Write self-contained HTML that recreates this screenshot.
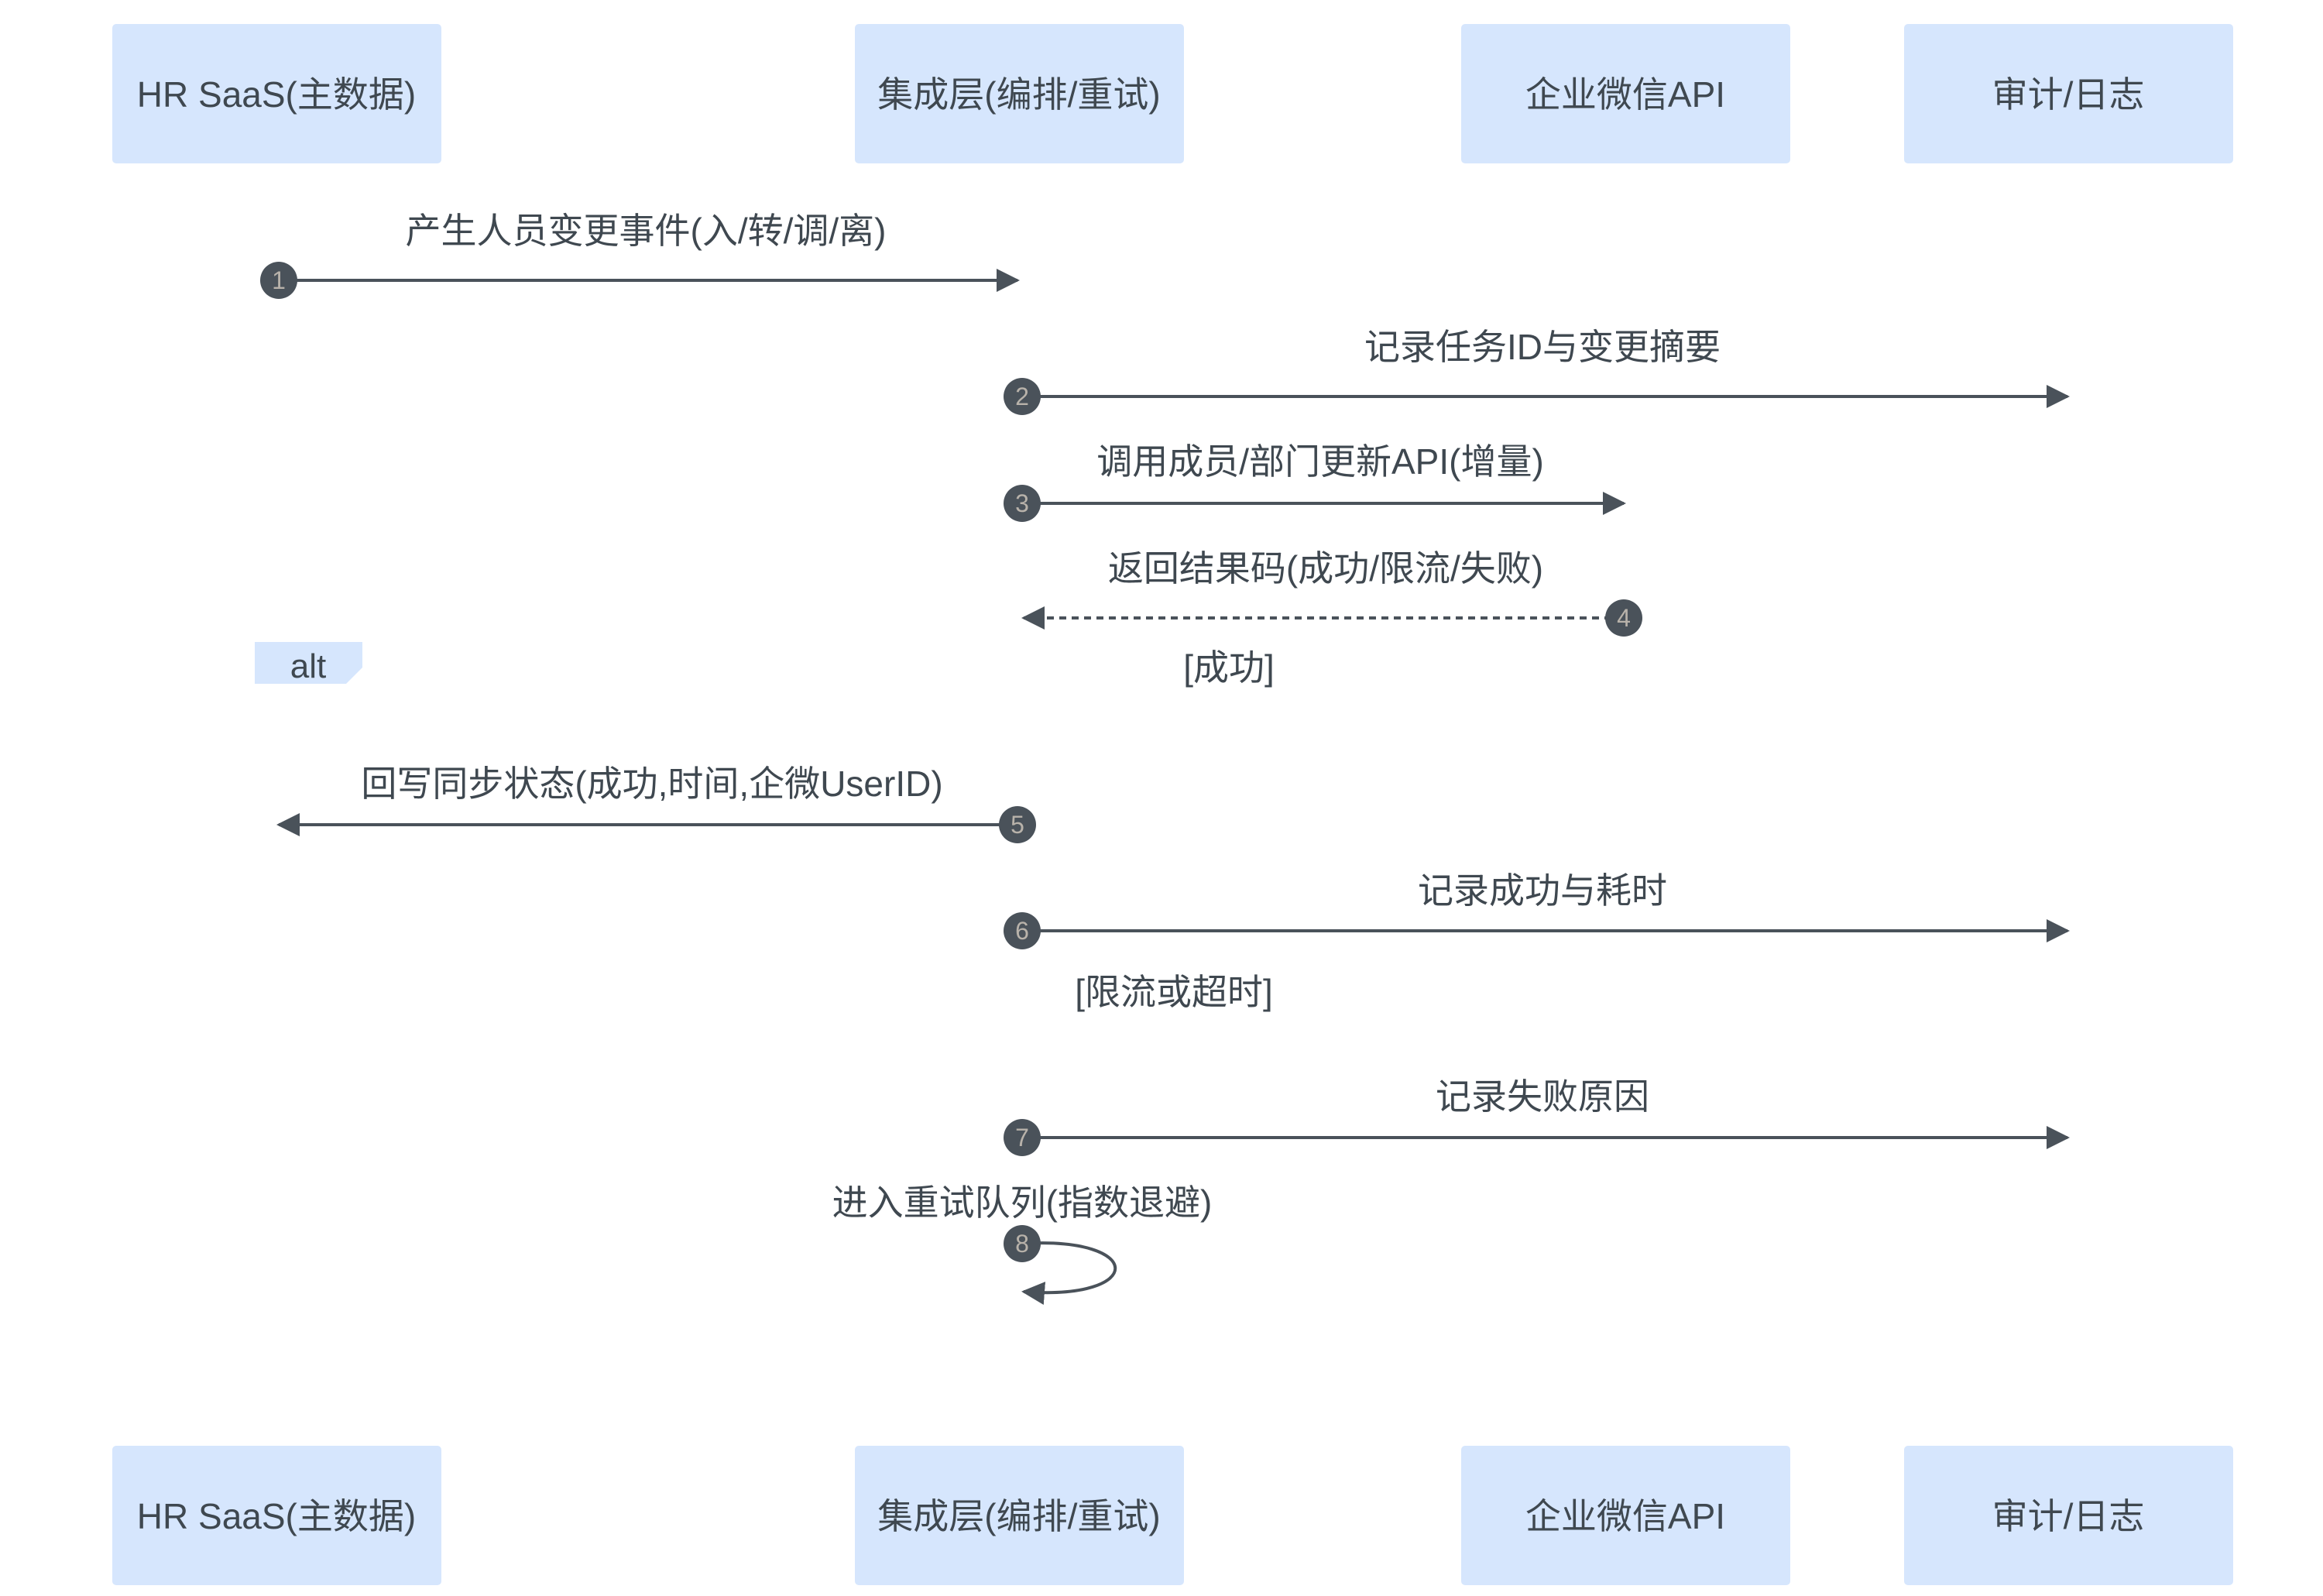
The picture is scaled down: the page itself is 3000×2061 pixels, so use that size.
<!DOCTYPE html>
<html><head><meta charset="utf-8"><style>
html,body{margin:0;padding:0;background:#fff;}
svg{display:block;}
text{font-family:"Liberation Sans","Noto Sans CJK SC",sans-serif;fill:#3f4850;}
</style></head><body>
<svg width="3000" height="2061" viewBox="0 0 3000 2061" xmlns="http://www.w3.org/2000/svg">
<defs>
<marker id="ah" viewBox="0 0 10 10" refX="9" refY="5" markerWidth="30" markerHeight="30" markerUnits="userSpaceOnUse" orient="auto"><path d="M0,0 L10,5 L0,10 z" fill="#4a525a"/></marker>
</defs>
<g fill="#d6e6fd">
<rect x="145" y="31" width="425" height="180" rx="5"/>
<rect x="1104" y="31" width="425" height="180" rx="5"/>
<rect x="1887" y="31" width="425" height="180" rx="5"/>
<rect x="2459" y="31" width="425" height="180" rx="5"/>
<rect x="145" y="1867" width="425" height="180" rx="5"/>
<rect x="1104" y="1867" width="425" height="180" rx="5"/>
<rect x="1887" y="1867" width="425" height="180" rx="5"/>
<rect x="2459" y="1867" width="425" height="180" rx="5"/>
</g>
<g font-size="46" text-anchor="middle">
<text x="357" y="138">HR SaaS(主数据)</text>
<text x="1316" y="138">集成层(编排/重试)</text>
<text x="2099" y="138">企业微信API</text>
<text x="2671" y="138">审计/日志</text>
<text x="357" y="1974">HR SaaS(主数据)</text>
<text x="1316" y="1974">集成层(编排/重试)</text>
<text x="2099" y="1974">企业微信API</text>
<text x="2671" y="1974">审计/日志</text>
</g>
<g stroke="#4a525a" stroke-width="4" fill="none">
<line x1="360" y1="362" x2="1314" y2="362" marker-end="url(#ah)"/>
<line x1="1320" y1="512" x2="2670" y2="512" marker-end="url(#ah)"/>
<line x1="1320" y1="650" x2="2097" y2="650" marker-end="url(#ah)"/>
<line x1="2097" y1="798" x2="1322" y2="798" stroke-dasharray="9,7" marker-end="url(#ah)"/>
<line x1="1314" y1="1065" x2="360" y2="1065" marker-end="url(#ah)"/>
<line x1="1320" y1="1202" x2="2670" y2="1202" marker-end="url(#ah)"/>
<line x1="1320" y1="1469" x2="2670" y2="1469" marker-end="url(#ah)"/>
<path d="M1320,1606 C1480,1596 1480,1680 1322,1668" marker-end="url(#ah)"/>
</g>
<g fill="#4a525a">
<circle cx="360" cy="362" r="24"/>
<circle cx="1320" cy="512" r="24"/>
<circle cx="1320" cy="650" r="24"/>
<circle cx="2097" cy="798" r="24"/>
<circle cx="1314" cy="1065" r="24"/>
<circle cx="1320" cy="1202" r="24"/>
<circle cx="1320" cy="1469" r="24"/>
<circle cx="1320" cy="1606" r="24"/>
</g>
<g font-size="32" text-anchor="middle" style="fill:#b8b2aa">
<text x="360" y="373" style="fill:#b8b2aa">1</text>
<text x="1320" y="523" style="fill:#b8b2aa">2</text>
<text x="1320" y="661" style="fill:#b8b2aa">3</text>
<text x="2097" y="809" style="fill:#b8b2aa">4</text>
<text x="1314" y="1076" style="fill:#b8b2aa">5</text>
<text x="1320" y="1213" style="fill:#b8b2aa">6</text>
<text x="1320" y="1480" style="fill:#b8b2aa">7</text>
<text x="1320" y="1617" style="fill:#b8b2aa">8</text>
</g>
<g font-size="46" text-anchor="middle">
<text x="834" y="314">产生人员变更事件(入/转/调/离)</text>
<text x="1992" y="464">记录任务ID与变更摘要</text>
<text x="1705" y="612">调用成员/部门更新API(增量)</text>
<text x="1712" y="750">返回结果码(成功/限流/失败)</text>
<text x="1587" y="878">[成功]</text>
<text x="842" y="1028">回写同步状态(成功,时间,企微UserID)</text>
<text x="1992" y="1166">记录成功与耗时</text>
<text x="1516" y="1297">[限流或超时]</text>
<text x="1992" y="1432">记录失败原因</text>
<text x="1320" y="1569">进入重试队列(指数退避)</text>
</g>
<path d="M329,829 L468,829 L468,862 L447,883 L329,883 z" fill="#d6e6fd"/>
<text x="398" y="875" font-size="44" text-anchor="middle">alt</text>
</svg>
</body></html>
